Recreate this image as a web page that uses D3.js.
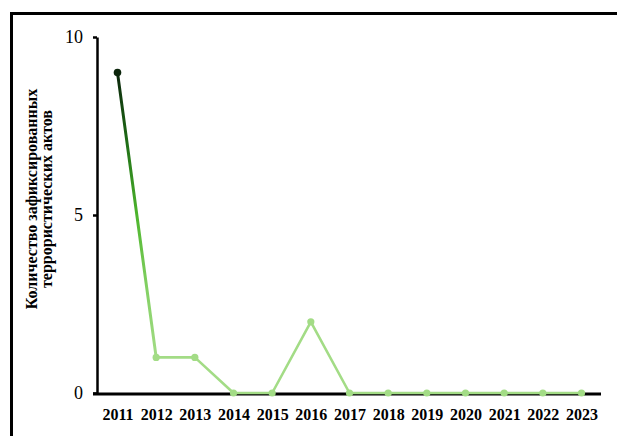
<!DOCTYPE html>
<html><head><meta charset="utf-8">
<script src="https://cdn.jsdelivr.net/npm/d3@7"></script>
<style>body{margin:0;background:#fff;}svg{display:block;}</style>
</head><body>
<script>
const years = ["2011","2012","2013","2014","2015","2016","2017","2018","2019","2020","2021","2022","2023"];
const counts = [9,1,1,0,0,2,0,0,0,0,0,0,0];
const yTicks = [0,5,10];
const yTitle = ["Количество зафиксированных","террористических  актов"];

const W=617,H=436;
const svg=d3.select("body").append("svg").attr("width",W).attr("height",H);
svg.append("rect").attr("x",11.5).attr("y",13.5).attr("width",640).attr("height",460)
  .attr("fill","none").attr("stroke","#000").attr("stroke-width",3);

const x=d3.scalePoint().domain(years).range([117.5,581.5]);
const y=d3.scaleLinear().domain([0,10]).range([393,37]);

// y axis
const ya=svg.append("g").attr("transform","translate(97,0)")
  .call(d3.axisLeft(y).tickValues(yTicks).tickSize(4).tickSizeOuter(0).tickPadding(10));
ya.select(".domain").attr("stroke","#000").attr("stroke-width",2.5);
ya.selectAll(".tick line").attr("stroke","#000").attr("stroke-width",2.5);
ya.selectAll(".tick text").attr("font-family","Liberation Serif").attr("font-size",18).attr("fill","#000").attr("dy","0.3em");

// x axis
svg.append("line").attr("x1",93).attr("x2",601).attr("y1",y(0)+1).attr("y2",y(0)+1)
  .attr("stroke","#000").attr("stroke-width",3);
const xa=svg.append("g").attr("transform",`translate(0,${y(0)})`)
  .call(d3.axisBottom(x).tickSize(0).tickPadding(16));
xa.select(".domain").remove();
xa.selectAll(".tick text").attr("font-family","Liberation Serif").attr("font-weight","bold")
  .attr("font-size",16).attr("fill","#000");

// y title
const t=svg.append("text").attr("transform","translate(37,199) rotate(-90)")
  .attr("text-anchor","middle").attr("font-family","Liberation Serif").attr("font-weight","bold")
  .attr("font-size",16).attr("fill","#000");
yTitle.forEach((s,i)=>t.append("tspan").attr("x",0).attr("y",i*15).text(s));

// gradient for first segment
const defs=svg.append("defs");
const g=defs.append("linearGradient").attr("id","gr").attr("gradientUnits","userSpaceOnUse")
  .attr("x1",x(years[0])).attr("y1",y(counts[0])).attr("x2",x(years[1])).attr("y2",y(counts[1]));
[[0,"#0b250b"],[0.25,"#1f6e16"],[0.5,"#4db52c"],[0.75,"#82d062"],[1,"#a3dc86"]]
  .forEach(([o,c])=>g.append("stop").attr("offset",o).attr("stop-color",c));

const data=years.map((d,i)=>({year:d,v:counts[i]}));
const line=d3.line().x(d=>x(d.year)).y(d=>y(d.v));
svg.append("path").datum(data.slice(1)).attr("d",line).attr("fill","none")
  .attr("stroke","#a3dc86").attr("stroke-width",2.6).attr("stroke-linejoin","round");
svg.append("path").datum(data.slice(0,2)).attr("d",line).attr("fill","none")
  .attr("stroke","url(#gr)").attr("stroke-width",3).attr("stroke-linecap","round");
svg.selectAll("circle.pt").data(data).join("circle").attr("class","pt")
  .attr("cx",d=>x(d.year)).attr("cy",d=>y(d.v)).attr("r",d=>d.year===years[0]?3.8:3.6)
  .attr("fill",(d,i)=>i===0?"#0b250b":"#a3dc86");
</script>
</body></html>
